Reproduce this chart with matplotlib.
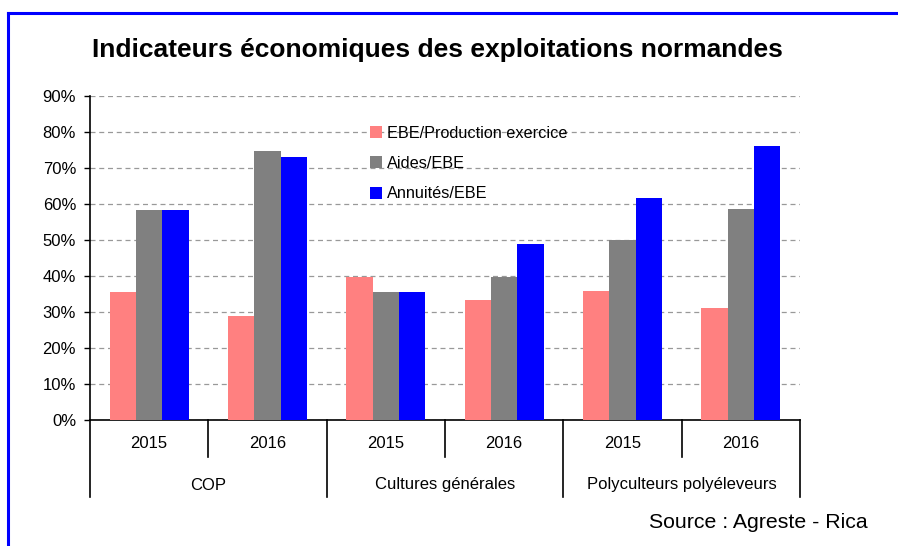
import matplotlib
matplotlib.use("Agg")
import matplotlib.pyplot as plt
from matplotlib.lines import Line2D
import matplotlib.transforms as mtransforms

plt.rcParams['font.family'] = ['Liberation Sans', 'DejaVu Sans']

groups = ["COP", "Cultures générales", "Polyculteurs polyéleveurs"]
years = ["2015", "2016"]
series_names = ["EBE/Production exercice", "Aides/EBE", "Annuités/EBE"]
ebe_production = [35.5, 28.8, 39.6, 33.3, 35.9, 31.0]
aides_ebe = [58.2, 74.7, 35.5, 39.6, 49.9, 58.7]
annuites_ebe = [58.2, 73.0, 35.5, 48.8, 61.8, 76.1]
colors = ["#FF8080", "#808080", "#0000FF"]
yticks = [0, 10, 20, 30, 40, 50, 60, 70, 80, 90]

W, H = 898, 546
fig = plt.figure(figsize=(W / 100, H / 100), dpi=100)
ax = fig.add_axes([90 / W, (H - 420) / H, (800 - 90) / W, (420 - 96) / H])

n = len(ebe_production)
x = list(range(n))
bw = 0.222
for i, (vals, c, name) in enumerate(zip([ebe_production, aides_ebe, annuites_ebe], colors, series_names)):
    ax.bar([xi + (i - 1) * bw for xi in x], vals, width=bw, color=c, label=name, zorder=3)

ax.set_xlim(-0.5, n - 0.5)
ax.set_ylim(0, 90)
ax.set_yticks(yticks)
ax.set_yticklabels([f"{v}%" for v in yticks], fontsize=12)
ax.yaxis.grid(True, linestyle=(0, (4, 3)), color="#999999", linewidth=0.9, zorder=0)
ax.set_axisbelow(True)
ax.tick_params(axis="y", length=4, width=1, color="black", pad=6)
ax.set_xticks([])
for s in ["top", "right"]:
    ax.spines[s].set_visible(False)
ax.spines["left"].set_linewidth(1.2)
ax.spines["bottom"].set_linewidth(1.2)

# hierarchical category axis
tr = mtransforms.blended_transform_factory(ax.transData, fig.transFigure)
y0 = (H - 420) / H
y_year = (H - 457) / H
y_grp = (H - 497) / H
for k in range(n + 1):
    xb = k - 0.5
    yb = y_grp if k % 2 == 0 else y_year
    ax.add_line(Line2D([xb, xb], [y0, yb], transform=tr, color="black", lw=1.2, clip_on=False))
for k in range(n):
    ax.text(k, (H - 444) / H, years[k % 2], transform=tr, ha="center", va="center", fontsize=12)
for g, name in enumerate(groups):
    ax.text(2 * g + 0.5, (H - 485) / H, name, transform=tr, ha="center", va="center", fontsize=12)

leg = ax.legend(loc="upper left", bbox_to_anchor=((363 - 90) / (800 - 90), (420 - 119) / (420 - 96)),
                frameon=False, fontsize=11.7, handlelength=0.75, handleheight=0.75,
                handletextpad=0.3, labelspacing=0.95, borderaxespad=0)

fig.text(437 / W, 1 - 50 / H, "Indicateurs économiques des exploitations normandes",
         ha="center", va="center", fontsize=19, fontweight="bold")
fig.text(868 / W, 1 - 522 / H, "Source : Agreste - Rica", ha="right", va="center", fontsize=15.3)

# blue frame
fig.add_artist(Line2D([8 / W, 1], [1 - 13 / H, 1 - 13 / H], transform=fig.transFigure, color="#0000FF", lw=2.2))
fig.add_artist(Line2D([8 / W, 8 / W], [0, 1 - 13 / H], transform=fig.transFigure, color="#0000FF", lw=2.2))

fig.savefig("out.png", dpi=100)
